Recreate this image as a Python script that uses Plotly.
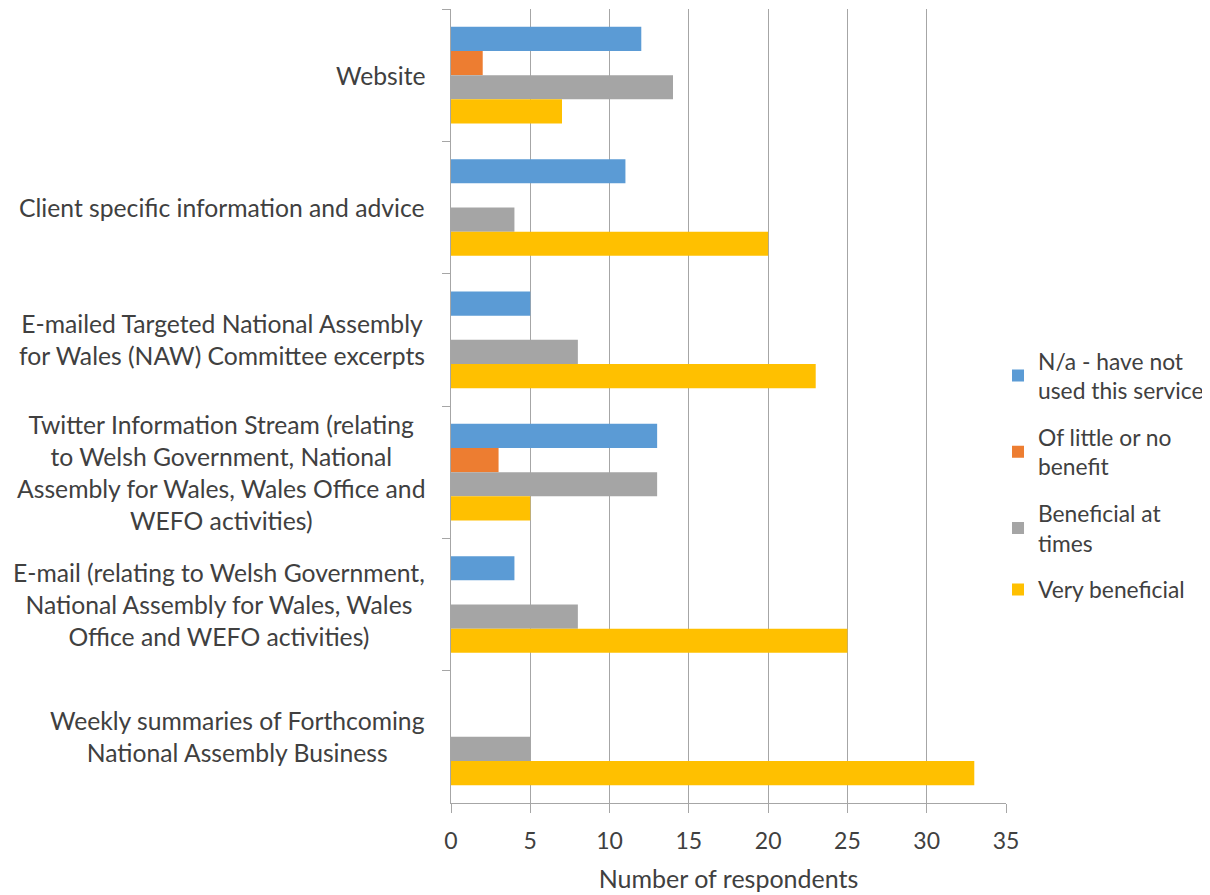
import plotly.graph_objects as go

categories = [
    "Website",
    "Client specific information and advice",
    "E-mailed Targeted National Assembly<br>for Wales (NAW) Committee excerpts",
    "Twitter Information Stream (relating<br>to Welsh Government, National<br>Assembly for Wales, Wales Office and<br>WEFO activities)",
    "E-mail (relating to Welsh Government,<br>National Assembly for Wales, Wales<br>Office and WEFO activities)",
    "Weekly summaries of Forthcoming<br>National Assembly Business",
]
series_names = [
    "N/a - have not<br>used this service",
    "Of little or no<br>benefit",
    "Beneficial at<br>times",
    "Very beneficial",
]
na_values = [12, 11, 5, 13, 4, 0]
little_values = [2, 0, 0, 3, 0, 0]
at_times_values = [14, 4, 8, 13, 8, 5]
very_values = [7, 20, 23, 5, 25, 33]
colors = ["#5B9BD5", "#ED7D31", "#A5A5A5", "#FFC000"]
x_ticks = [0, 5, 10, 15, 20, 25, 30, 35]

FONT = "Lato"
TXT = "#404040"

fig = go.Figure()
for name, vals, col in zip(series_names, [na_values, little_values, at_times_values, very_values], colors):
    fig.add_trace(go.Bar(
        y=categories, x=vals, name=name, orientation="h",
        marker=dict(color=col, line=dict(width=0)),
        legendgroup=name,
    ))

for cat in categories:
    fig.add_annotation(
        x=0, xref="paper", y=cat, yref="y", text=cat, showarrow=False,
        xanchor="right", yanchor="middle", align="center", xshift=-24,
        font=dict(family=FONT, size=24.7, color=TXT),
    )

fig.update_layout(
    width=1210, height=895,
    margin=dict(l=443, r=212, t=1, b=100),
    plot_bgcolor="white", paper_bgcolor="white",
    barmode="group", bargap=0.27, bargroupgap=0,
    font=dict(family=FONT, size=23, color=TXT),
    showlegend=True,
    legend=dict(
        x=0.9856, xanchor="left", y=0.584, yanchor="top",
        traceorder="grouped", tracegroupgap=14,
        font=dict(family=FONT, size=22.8, color=TXT),
        itemwidth=30, bgcolor="rgba(0,0,0,0)",
    ),
    xaxis=dict(
        range=[0, 35], tickvals=x_ticks, ticktext=[str(v) for v in x_ticks],
        showgrid=True, gridcolor="#A6A6A6", gridwidth=1,
        showline=True, linecolor="#A6A6A6", linewidth=1,
        ticks="outside", ticklen=9, tickcolor="#A6A6A6",
        zeroline=False, ticklabelstandoff=8,
        tickfont=dict(family=FONT, size=23, color=TXT),
        title=dict(text="Number of respondents", font=dict(family=FONT, size=25, color=TXT), standoff=17),
    ),
    yaxis=dict(
        autorange="reversed", showticklabels=False,
        showline=True, linecolor="#A6A6A6", linewidth=1,
        ticks="outside", ticklen=8, tickcolor="#A6A6A6", tickson="boundaries",
        showgrid=False, zeroline=False,
    ),
)

fig.write_html("out.html")
